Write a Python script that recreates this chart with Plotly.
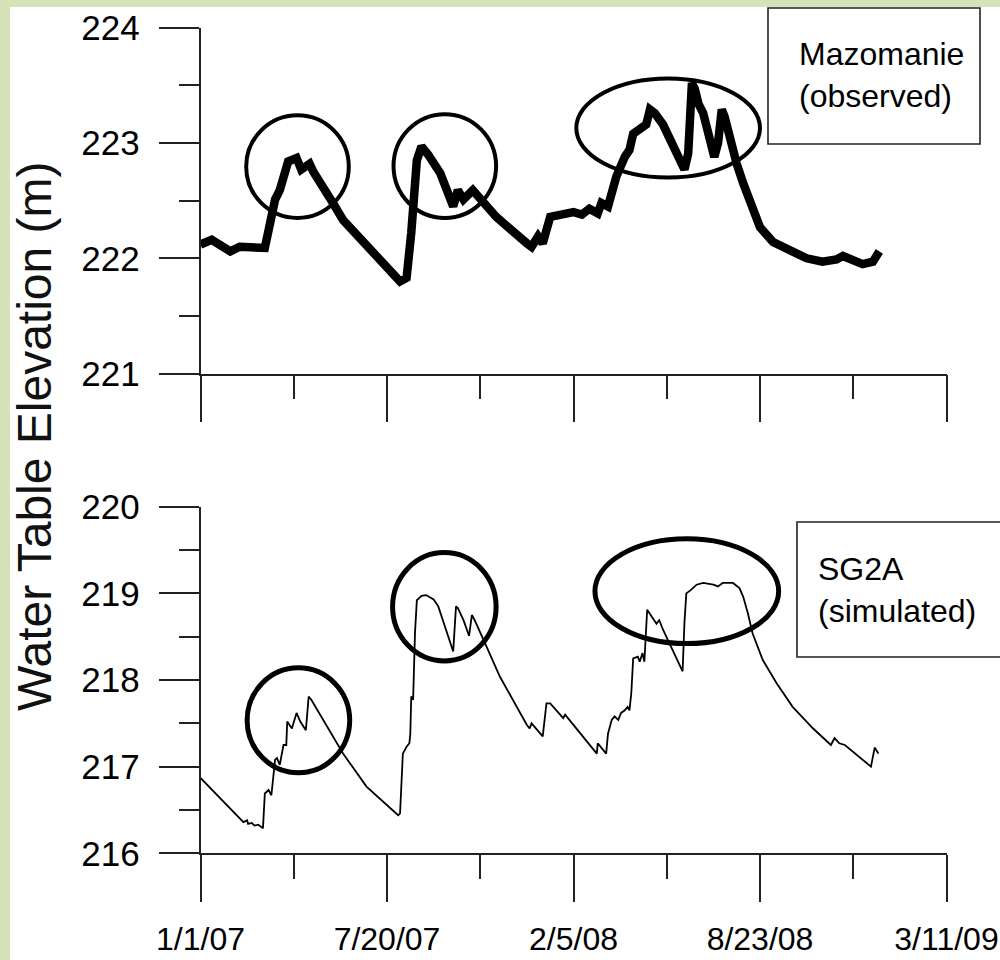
import pandas as pd
import plotly.graph_objects as go

# ---------------- data ----------------
start_date = "2007-01-01"

obs_days = [0, 12, 32, 42, 69, 73, 80, 85, 94, 103, 108, 117, 121, 142, 153, 214, 221, 226, 232, 237,
            244, 257, 271, 276, 282, 292, 298, 317, 350, 355, 362, 367, 375, 385, 400, 409, 417, 426, 430, 437,
            441, 446, 455, 460, 464, 471, 478, 482, 487, 496, 507, 514, 519, 523, 525, 527, 530, 534, 539, 546,
            551, 555, 559, 562, 567, 575, 582, 589, 600, 614, 632, 650, 667, 682, 689, 696, 710, 721, 728]
obs_elev = [222.12, 222.16, 222.06, 222.10, 222.09, 222.23, 222.51, 222.59, 222.84, 222.87, 222.77, 222.82,
            222.75, 222.48, 222.33, 221.80, 221.83, 222.22, 222.85, 222.97, 222.90, 222.74, 222.45, 222.59,
            222.51, 222.59, 222.53, 222.36, 222.13, 222.10, 222.19, 222.13, 222.36, 222.38, 222.40, 222.38,
            222.43, 222.39, 222.48, 222.45, 222.59, 222.71, 222.88, 222.94, 223.08, 223.11, 223.16, 223.29,
            223.26, 223.16, 222.98, 222.85, 222.77, 222.91, 223.26, 223.52, 223.47, 223.34, 223.26, 223.05,
            222.88, 223.00, 223.29, 223.23, 223.05, 222.82, 222.65, 222.48, 222.27, 222.14, 222.06, 222.00,
            221.97, 221.99, 222.02, 221.99, 221.95, 221.97, 222.06]

sim_days = [0, 24, 46, 50, 51, 55, 58, 62, 67, 69, 73, 76, 80, 82, 85, 89, 92, 93, 98, 103,
            107, 113, 116, 119, 153, 178, 212, 214, 217, 221, 224, 225, 226, 228, 230, 232, 237, 242, 250, 255,
            262, 271, 274, 276, 282, 288, 291, 294, 307, 321, 350, 353, 355, 367, 371, 375, 389, 391, 425, 426,
            435, 437, 441, 444, 448, 451, 455, 458, 460, 462, 464, 469, 471, 474, 476, 479, 484, 487, 489, 492,
            496, 517, 519, 521, 526, 532, 539, 550, 555, 560, 571, 578, 582, 587, 592, 603, 618, 635, 657, 676,
            680, 685, 691, 719, 723, 727]
sim_elev = [216.87, 216.60, 216.36, 216.38, 216.34, 216.35, 216.32, 216.33, 216.29, 216.69, 216.73, 216.67,
            217.08, 217.10, 217.02, 217.25, 217.25, 217.52, 217.44, 217.62, 217.52, 217.42, 217.81, 217.77,
            217.15, 216.77, 216.44, 216.46, 217.15, 217.23, 217.27, 217.38, 217.81, 217.77, 218.54, 218.92,
            218.97, 218.98, 218.93, 218.85, 218.62, 218.33, 218.85, 218.83, 218.69, 218.51, 218.75, 218.69,
            218.38, 218.04, 217.48, 217.44, 217.50, 217.35, 217.73, 217.73, 217.56, 217.60, 217.15, 217.27,
            217.15, 217.38, 217.54, 217.58, 217.54, 217.62, 217.65, 217.69, 217.65, 217.85, 218.25, 218.27,
            218.21, 218.31, 218.21, 218.81, 218.73, 218.69, 218.65, 218.69, 218.58, 218.10, 218.67, 219.00,
            219.04, 219.10, 219.12, 219.10, 219.08, 219.12, 219.12, 219.06, 218.96, 218.77, 218.54, 218.23,
            217.96, 217.69, 217.44, 217.25, 217.33, 217.27, 217.25, 217.00, 217.22, 217.15]

tick_dates = ["2007-01-01", "2007-07-20", "2008-02-05", "2008-08-23", "2009-03-11"]
tick_labels = ["1/1/07", "7/20/07", "2/5/08", "8/23/08", "3/11/09"]

# highlighted regions: (day_start, day_end, elev_low, elev_high)
top_regions = [(49, 159, 222.35, 223.24), (207, 317, 222.35, 223.25), (403, 600, 222.70, 223.56)]
bot_regions = [(50, 160, 216.93, 218.14), (206, 317, 218.22, 219.47), (423, 620, 218.42, 219.63)]

# ---------------- helpers ----------------
t0 = pd.Timestamp(start_date)


def to_dates(days):
    return [t0 + pd.Timedelta(days=float(d)) for d in days]


W, H = 1000, 960
FAM = "Liberation Sans Narrow, Arial Narrow, Liberation Sans, Arial"
TICKFONT = dict(family=FAM, size=35, color="black")
XTICKFONT = dict(family=FAM, size=32, color="black")
AX = "#222222"
X_DOMAIN = [0.2005, 0.9465]

fig = go.Figure()
fig.add_trace(go.Scatter(x=to_dates(obs_days), y=obs_elev, mode="lines",
                         line=dict(color="black", width=8.5), xaxis="x", yaxis="y",
                         showlegend=False, hoverinfo="skip"))
fig.add_trace(go.Scatter(x=to_dates(sim_days), y=sim_elev, mode="lines",
                         line=dict(color="black", width=1.8), xaxis="x2", yaxis="y2",
                         showlegend=False, hoverinfo="skip"))

xcommon = dict(
    domain=X_DOMAIN, range=[tick_dates[0], tick_dates[-1]], type="date",
    tickmode="array", tickvals=tick_dates, ticktext=tick_labels,
    ticks="outside", ticklen=47, tickwidth=1.6, tickcolor=AX,
    minor=dict(ticks="outside", ticklen=24, tickwidth=1.6, tickcolor=AX,
               dtick=100 * 86400000, tick0=tick_dates[0]),
    showline=True, linecolor=AX, linewidth=1.6, showgrid=False, zeroline=False,
    tickfont=XTICKFONT, fixedrange=True, automargin=False, ticklabeloverflow="allow",
)
ycommon = dict(
    dtick=1, tickmode="linear",
    ticks="outside", ticklen=40, tickwidth=1.6, tickcolor=AX,
    minor=dict(ticks="outside", ticklen=20, tickwidth=1.6, tickcolor=AX, dtick=0.5),
    showline=True, linecolor=AX, linewidth=1.6, showgrid=False, zeroline=False,
    tickfont=TICKFONT, ticklabelstandoff=12, fixedrange=True, automargin=False,
    ticklabeloverflow="allow",
)


def py(p):
    return 1 - p / H


fig.update_layout(
    width=W, height=H, autosize=False,
    margin=dict(l=0, r=0, t=0, b=0, pad=0, autoexpand=False),
    paper_bgcolor="#d6e3b8", plot_bgcolor="rgba(0,0,0,0)",
    xaxis=dict(xcommon, anchor="y", showticklabels=False),
    xaxis2=dict(xcommon, anchor="y2", showticklabels=True, ticklabelstandoff=9),
    yaxis=dict(ycommon, domain=[py(373.6), py(27.7)], range=[221, 224], tick0=221, anchor="x"),
    yaxis2=dict(ycommon, domain=[py(853.3), py(506.7)], range=[216, 220], tick0=216, anchor="x2"),
)

shapes = [dict(type="rect", xref="paper", yref="paper", x0=0.010, x1=1.0, y0=0, y1=py(7),
               fillcolor="white", line=dict(width=0), layer="below")]
for d0, d1, e0, e1 in top_regions:
    shapes.append(dict(type="circle", xref="x", yref="y",
                       x0=to_dates([d0])[0], x1=to_dates([d1])[0], y0=e0, y1=e1,
                       line=dict(color="black", width=4)))
for d0, d1, e0, e1 in bot_regions:
    shapes.append(dict(type="circle", xref="x2", yref="y2",
                       x0=to_dates([d0])[0], x1=to_dates([d1])[0], y0=e0, y1=e1,
                       line=dict(color="black", width=5)))
# label boxes
shapes.append(dict(type="rect", xref="paper", yref="paper", x0=0.768, x1=0.980, y0=py(144), y1=py(8),
                   line=dict(color=AX, width=1.6), fillcolor="rgba(0,0,0,0)"))
shapes.append(dict(type="rect", xref="paper", yref="paper", x0=0.797, x1=1.02, y0=py(657), y1=py(522),
                   line=dict(color=AX, width=1.6), fillcolor="rgba(0,0,0,0)"))
fig.update_layout(shapes=shapes)

BOXFONT = dict(family=FAM, size=32, color="black")
fig.update_layout(annotations=[
    dict(text="Mazomanie<br>(observed)", xref="paper", yref="paper", x=0.797, y=py(75),
         xanchor="left", yanchor="middle", align="left", showarrow=False, font=BOXFONT),
    dict(text="SG2A<br>(simulated)", xref="paper", yref="paper", x=0.816, y=py(590),
         xanchor="left", yanchor="middle", align="left", showarrow=False, font=BOXFONT),
    dict(text="Water Table Elevation (m)", xref="paper", yref="paper", x=0.035, y=py(436),
         xanchor="center", yanchor="middle", textangle=-90, showarrow=False,
         font=dict(family="Liberation Sans, Arial", size=48, color="#111111")),
])

fig.write_html("out.html", config={"displayModeBar": False})
